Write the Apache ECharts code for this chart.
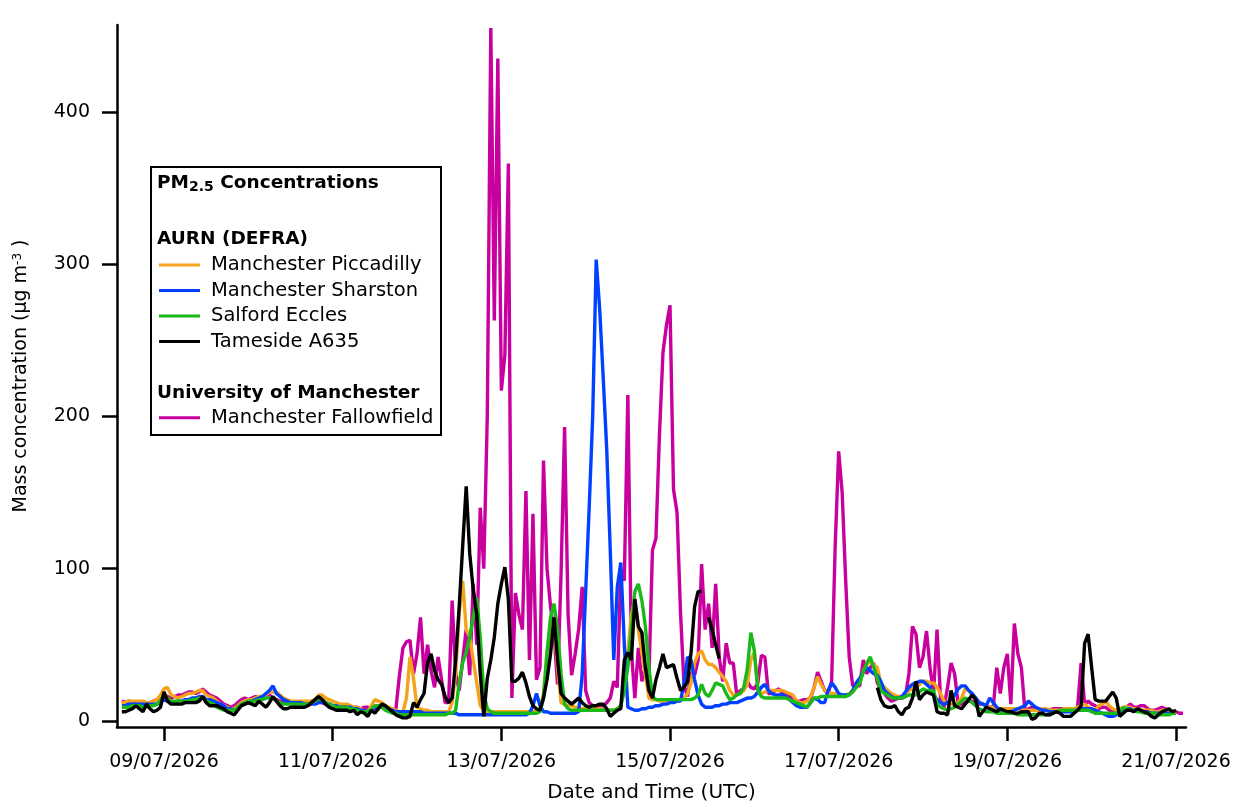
<!DOCTYPE html>
<html><head><meta charset="utf-8">
<script src="https://cdn.jsdelivr.net/npm/echarts@6/dist/echarts.min.js"></script>
<style>html,body{margin:0;padding:0;background:#fff}#c{width:1240px;height:806px}</style>
</head><body><div id="c"></div>
<script>
// x values are hours since 09/07/2026 00:00 UTC; samples are hourly from 08/07/2026 12:00 UTC
const ORIGIN_UTC = Date.UTC(2026, 6, 9, 0, 0);
const FIRST_HOUR = -12;
const X_MIN = -13.38;
const X_MAX = 290.85;
const xTickHours = [0, 48, 96, 144, 192, 240, 288];
const yTicks = [0, 100, 200, 300, 400];
const names = ['Manchester Piccadilly', 'Manchester Sharston', 'Salford Eccles', 'Tameside A635', 'Manchester Fallowfield'];

const piccadilly = [
12,12,13,13,13,13,13,12,12,13,14,17,
21,22,17,16,15,16,17,18,18,19,20,20,
17,16,15,13,11,10,9,8,8,10,12,13,
14,14,15,16,16,17,19,19,19,17,15,14,
13,13,13,13,13,13,13,14,17,17,15,14,
13,12,11,11,11,10,9,9,8,7,6,10,
14,13,12,10,9,8,7,6,6,15,42,28,
9,8,7,7,6,6,6,6,6,6,12,31,
70,92,60,55,40,25,10,7,6,6,6,6,
6,6,6,6,6,6,6,6,6,6,7,8,
18,45,62,65,35,12,11,10,10,9,9,8,
8,8,8,8,8,7,7,7,7,8,10,20,
45,70,80,60,45,30,15,14,14,13,13,13,
13,13,14,14,15,18,25,38,44,46,40,37,
37,35,32,29,26,20,17,17,18,20,24,40,
45,22,18,19,20,20,20,20,20,19,18,17,
13,12,12,13,16,22,29,24,20,19,18,18,
17,17,17,18,20,23,25,33,37,39,37,35,
25,22,20,18,17,16,16,17,20,21,22,24,
26,26,25,25,22,18,13,11,11,11,12,15,
21,20,17,15,12,11,10,9,9,8,8,8,
8,8,8,8,7,7,7,7,7,7,8,8,
7,7,7,7,8,8,8,8,9,10,11,9,
8,7,10,11,13,10,8,7,8,9,9,9,
8,8,7,7,7,7,6,6,7,7,6,6,
6,null,null];

const sharston = [
10,10,11,11,11,11,11,11,11,11,11,12,
14,13,12,12,13,13,14,14,15,15,16,16,
14,14,13,12,11,10,8,8,7,8,10,11,
12,13,14,15,16,18,20,23,18,16,14,13,
12,12,12,12,11,11,11,11,12,12,12,11,
10,10,9,9,9,9,8,8,7,7,6,7,
9,9,9,8,7,7,6,6,6,6,6,6,
6,6,5,5,5,5,5,5,5,5,5,5,
4,4,4,4,4,4,4,4,4,4,4,4,
4,4,4,4,4,4,4,4,5,10,18,10,
6,6,5,5,5,5,5,5,5,5,6,30,
85,140,200,303,270,225,178,112,40,88,104,50,
9,8,7,7,8,8,9,9,10,10,11,11,
12,12,13,13,25,42,40,27,17,11,9,9,
9,10,10,11,11,12,12,12,13,14,15,15,
16,19,22,24,20,18,17,17,17,16,14,12,
10,9,9,9,12,15,14,12,12,20,25,22,
18,17,17,17,20,25,28,32,35,33,31,30,
26,20,18,16,15,15,16,19,22,24,25,26,
26,24,22,17,14,12,11,12,14,17,21,23,
23,20,18,15,12,11,10,15,12,9,7,6,
6,6,7,8,9,10,13,11,9,8,7,7,
6,6,6,6,6,6,6,6,7,8,8,8,
8,7,6,5,4,3,3,4,6,7,8,8,
7,7,6,6,6,5,5,5,5,5,5,5,
5,null,null];

const eccles = [
9,9,9,10,10,10,9,9,10,10,11,13,
17,15,13,13,13,13,13,13,14,14,15,15,
13,12,11,9,8,7,7,7,7,9,11,12,
13,13,13,14,14,15,15,15,13,12,11,11,
11,11,11,11,11,11,12,13,15,14,12,11,
10,9,9,9,9,8,8,7,6,6,6,8,
10,10,9,7,6,5,5,4,4,4,4,4,
4,4,4,4,4,4,4,4,4,5,5,7,
25,38,45,55,68,81,55,18,8,6,5,5,
5,5,5,5,5,5,5,5,5,5,5,6,
15,45,68,77,60,31,11,8,7,7,7,7,
7,7,7,7,7,7,7,7,7,8,10,20,
35,60,85,90,79,62,35,16,14,14,14,14,
14,14,14,14,14,14,14,15,17,24,18,16,
20,25,24,23,18,14,15,17,18,22,34,58,
46,20,16,15,15,15,15,15,15,15,14,13,
12,11,10,9,12,15,15,16,16,16,16,16,
16,16,16,17,19,22,25,32,38,42,35,28,
20,18,17,15,15,15,15,16,17,17,17,19,
21,20,20,20,11,9,8,7,8,9,11,13,
15,14,12,10,8,7,6,6,6,5,5,5,
5,5,5,4,4,4,4,4,4,4,4,4,
4,5,6,7,7,7,7,7,7,7,7,7,
6,5,5,5,5,5,5,5,6,9,8,7,
7,6,6,5,5,5,5,4,4,4,4,5,
5,null,null];

const tameside = [
6,6,7,8,10,8,6,11,8,6,7,9,
19,13,11,11,11,11,12,12,12,12,13,16,
12,10,10,10,9,8,6,5,4,7,10,11,
12,11,10,13,11,9,12,16,13,10,8,8,
9,9,9,9,9,10,12,14,16,14,11,9,
8,7,7,7,7,6,7,4,6,5,3,7,
5,8,11,10,8,6,4,3,2,2,3,12,
9,14,18,38,44,33,27,24,16,12,15,40,
75,115,154,110,86,70,31,3,28,40,55,77,
90,101,80,26,26,28,32,25,16,10,8,7,
15,27,44,68,40,18,15,13,11,13,15,12,
10,9,10,10,11,11,8,3,5,7,8,40,
45,40,80,62,58,35,20,15,27,35,44,35,
36,37,28,20,22,26,45,75,85,85,null,68,
60,50,41,null,null,null,null,null,null,null,null,null,
null,null,null,null,null,null,null,null,null,null,null,null,
null,null,null,null,null,null,null,null,null,null,null,null,
null,null,null,null,null,null,null,null,null,null,null,22,
14,10,9,9,10,6,4,8,9,15,26,14,
17,19,18,17,6,5,5,4,20,10,9,8,
11,14,17,14,3,6,9,8,7,6,8,7,
6,6,5,5,6,6,6,1,2,5,5,4,
4,5,6,5,3,3,3,5,7,10,51,57,
35,14,13,13,13,16,19,15,3,5,7,7,
6,8,7,6,5,3,2,4,6,7,8,6,
7,null,null];

const fallowfield = [
13,12,13,12,12,11,12,11,12,13,14,15,
17,16,15,16,17,17,18,19,19,18,19,21,
19,17,16,15,13,11,10,9,10,12,14,15,
14,15,16,15,16,17,17,15,14,13,13,12,
12,11,11,12,12,12,13,13,13,12,11,11,
10,10,10,10,9,9,9,9,8,9,9,8,
8,10,9,8,8,7,8,30,48,52,53,31,
44,68,31,50,33,22,42,27,12,12,79,31,
20,40,60,30,90,50,140,100,200,455,263,435,
217,240,366,15,84,70,60,151,40,136,27,35,
171,100,75,57,24,97,193,70,30,44,60,88,
20,12,10,10,10,10,12,15,26,22,99,92,
214,46,15,48,26,35,28,112,120,188,242,260,
273,152,137,71,23,16,32,30,40,103,60,77,
48,90,42,26,51,38,38,17,20,21,26,22,
21,25,43,42,18,18,20,21,18,17,16,14,
13,13,14,14,15,22,32,26,20,18,26,114,
177,150,92,42,23,23,23,40,31,35,38,25,
21,18,15,13,14,15,15,16,31,62,57,35,
42,59,35,18,60,14,9,22,38,31,11,11,
12,13,13,12,11,11,10,9,9,35,18,35,
44,11,64,44,35,7,8,9,9,8,7,7,
7,8,8,8,8,8,8,8,9,38,11,13,
11,10,8,9,9,7,6,6,7,8,9,11,
9,9,10,10,8,7,7,8,9,8,7,6,
6,5,5];

const colors = ['#F5A31B', '#0040FF', '#19B919', '#000000', '#C8009E'];
const FONT = 'DejaVu Sans';

function toPairs(arr) { return arr.map((v, i) => [FIRST_HOUR + i, v]); }
function pad(n) { return (n < 10 ? '0' : '') + n; }
function hourLabel(h) {
  const d = new Date(ORIGIN_UTC + Math.round(h) * 3600000);
  return pad(d.getUTCDate()) + '/' + pad(d.getUTCMonth() + 1) + '/' + d.getUTCFullYear();
}

const valueArrays = [piccadilly, sharston, eccles, tameside, fallowfield];
const drawOrder = [4, 0, 1, 2, 3];
const series = drawOrder.map(i => ({
  name: names[i], type: 'line', data: toPairs(valueArrays[i]),
  showSymbol: false, symbol: 'none', connectNulls: false,
  color: colors[i],
  itemStyle: { color: colors[i] },
  lineStyle: { width: 3.4, color: colors[i], join: 'bevel' },
  emphasis: { disabled: true }, silent: true
}));

const legendCommon = {
  orient: 'vertical', left: 159, padding: 0, itemGap: 0,
  itemWidth: 41, itemHeight: 3, icon: 'rect', selectedMode: false,
  itemStyle: { borderWidth: 0 },
  textStyle: { fontFamily: FONT, fontSize: 19.5, color: '#000', lineHeight: 25.5, padding: [0, 0, 0, 6] }
};

const chart = echarts.init(document.getElementById('c'), null, { renderer: 'canvas' });
chart.setOption({
  animation: false,
  backgroundColor: '#fff',
  grid: { left: 117, right: 54, top: 25, bottom: 79, containLabel: false, outerBoundsMode: 'none' },
  xAxis: {
    type: 'value', min: X_MIN, max: X_MAX,
    name: 'Date and Time (UTC)', nameLocation: 'middle', nameGap: 56,
    nameTextStyle: { fontFamily: FONT, fontSize: 20, color: '#000' },
    axisLine: { onZero: false, lineStyle: { color: '#000', width: 2.5 } },
    axisTick: { show: true, length: 14, lineStyle: { color: '#000', width: 2.5 }, customValues: xTickHours },
    axisLabel: { fontFamily: FONT, fontSize: 19, color: '#000', margin: 26, customValues: xTickHours, formatter: hourLabel },
    splitLine: { show: false }
  },
  yAxis: {
    type: 'value', min: -4, max: 457,
    name: '{a|Mass concentration (µg m}{sup|-3}{a| )}', nameLocation: 'middle', nameGap: 86,
    nameTextStyle: { fontFamily: FONT, fontSize: 19, color: '#000',
      rich: { a: { fontFamily: FONT, fontSize: 19, color: '#000' },
              sup: { fontFamily: FONT, fontSize: 12, color: '#000', lineHeight: 10, verticalAlign: 'top' } } },
    axisLine: { show: true, onZero: false, lineStyle: { color: '#000', width: 2.5 } },
    axisTick: { show: true, length: 15, lineStyle: { color: '#000', width: 2.5 }, customValues: yTicks },
    axisLabel: { fontFamily: FONT, fontSize: 19, color: '#000', margin: 27, customValues: yTicks },
    splitLine: { show: false }
  },
  legend: [
    Object.assign({}, legendCommon, { top: 252.3, data: names.slice(0, 4) }),
    Object.assign({}, legendCommon, { top: 405, data: names.slice(4) })
  ],
  graphic: [
    { type: 'rect', z: 0, shape: { x: 151, y: 167, width: 290, height: 268 },
      style: { fill: '#fff', stroke: '#000', lineWidth: 2 } },
    { type: 'text', z: 10, x: 157, y: 183.5,
      style: { text: '{b|PM}{s|2.5}{b| Concentrations}', verticalAlign: 'middle',
        rich: { b: { fontFamily: FONT, fontSize: 18.5, fontWeight: 'bold', lineHeight: 22, fill: '#000' },
                s: { fontFamily: FONT, fontSize: 14, fontWeight: 'bold', lineHeight: 10, verticalAlign: 'bottom', fill: '#000' } } } },
    { type: 'text', z: 10, x: 157, y: 239.3,
      style: { text: 'AURN (DEFRA)', verticalAlign: 'middle', fontFamily: FONT, fontSize: 18.5, fontWeight: 'bold', fill: '#000' } },
    { type: 'text', z: 10, x: 157, y: 393.3,
      style: { text: 'University of Manchester', verticalAlign: 'middle', fontFamily: FONT, fontSize: 18.5, fontWeight: 'bold', fill: '#000' } }
  ],
  series: series
});
</script></body></html>
